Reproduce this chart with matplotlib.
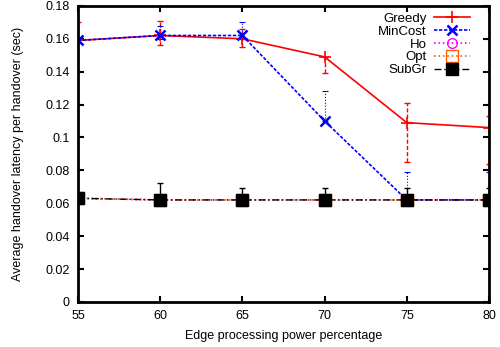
import matplotlib
matplotlib.use("Agg")
import matplotlib.pyplot as plt
import numpy as np

plt.rcParams['font.family'] = ['Liberation Sans', 'DejaVu Sans']

x = [55, 60, 65, 70, 75, 80]
greedy = [0.159, 0.162, 0.160, 0.149, 0.109, 0.106]
greedy_lo = [0.159, 0.156, 0.155, 0.139, 0.085, 0.084]
greedy_hi = [0.170, 0.171, 0.166, 0.149, 0.121, 0.113]
mincost = [0.159, 0.162, 0.162, 0.110, 0.062, 0.062]
mincost_lo = [0.159, 0.160, 0.160, 0.110, 0.062, 0.062]
mincost_hi = [0.160, 0.168, 0.170, 0.128, 0.079, 0.079]
ho = [0.063, 0.062, 0.062, 0.062, 0.062, 0.062]
opt = [0.063, 0.062, 0.062, 0.062, 0.062, 0.062]
subgr = [0.063, 0.062, 0.062, 0.062, 0.062, 0.062]
subgr_hi = [0.063, 0.072, 0.069, 0.069, 0.069, 0.069]

fig = plt.figure(figsize=(5, 3.47), dpi=100)
ax = fig.add_axes([0.156, 0.130, 0.822, 0.853])

def err(y, lo, hi):
    y = np.array(y); return [y - np.array(lo), np.array(hi) - y]

# error bars
eb = ax.errorbar(x, greedy, yerr=err(greedy, greedy_lo, greedy_hi), fmt='none', ecolor='#ff0000',
                 elinewidth=1, capsize=2, capthick=1)
for c in eb[2]:
    c.set_linestyle((0, (3, 1.5)))
eb = ax.errorbar(x, mincost, yerr=err(mincost, mincost_lo, mincost_hi), fmt='none', ecolor='#0000ff',
                 elinewidth=0.8, capsize=2, capthick=0.8)
for c in eb[2]:
    c.set_linestyle(':')
ax.errorbar(x, subgr, yerr=err(subgr, subgr, subgr_hi), fmt='none', ecolor='#000000',
            elinewidth=1, capsize=2, capthick=1)

ax.plot(x, greedy, color='#ff0000', linestyle='-', lw=1.2, marker='+', ms=8, mew=1.2, label='Greedy')
ax.plot(x, mincost, color='#0000ff', linestyle=(0, (2, 1)), lw=1.2, marker='x', ms=7, mew=1.8, label='MinCost')
ax.plot(x, ho, color='#ff00ff', linestyle=':', lw=1.2, marker='o', ms=7, mfc='none', mew=1.0, label='Ho')
ax.plot(x, opt, color='#ff6000', linestyle=':', lw=1.2, marker='s', ms=9, mfc='none', mew=1.0, label='Opt')
ax.plot(x, subgr, color='#000000', linestyle=(0, (5, 2, 1, 2)), lw=1.0, marker='s', ms=8, label='SubGr')

ax.set_xlim(55, 80)
ax.set_ylim(0, 0.18)
ax.set_xticks([55, 60, 65, 70, 75, 80])
yt = [0, 0.02, 0.04, 0.06, 0.08, 0.1, 0.12, 0.14, 0.16, 0.18]
ax.set_yticks(yt)
ax.set_yticklabels(['0', '0.02', '0.04', '0.06', '0.08', '0.1', '0.12', '0.14', '0.16', '0.18'])
ax.tick_params(direction='in', top=True, right=True, length=4, width=1.5, labelsize=9, pad=6)
for s in ax.spines.values():
    s.set_linewidth(2)
ax.set_xlabel('Edge processing power percentage', fontsize=9)
ax.set_ylabel('Average handover latency per handover (sec)', fontsize=9)
ax.yaxis.set_label_coords(-0.132, 0.5)
ax.xaxis.set_label_coords(0.5, -0.095)

leg = ax.legend(loc='upper right', frameon=False, markerfirst=False, fontsize=9.5,
                handlelength=2.7, labelspacing=0.05, borderaxespad=0.2, handletextpad=0.6,
                borderpad=0.3)
leg.set_bbox_to_anchor((0.97, 1.0), transform=ax.transAxes)

fig.savefig('out.png', dpi=100)
